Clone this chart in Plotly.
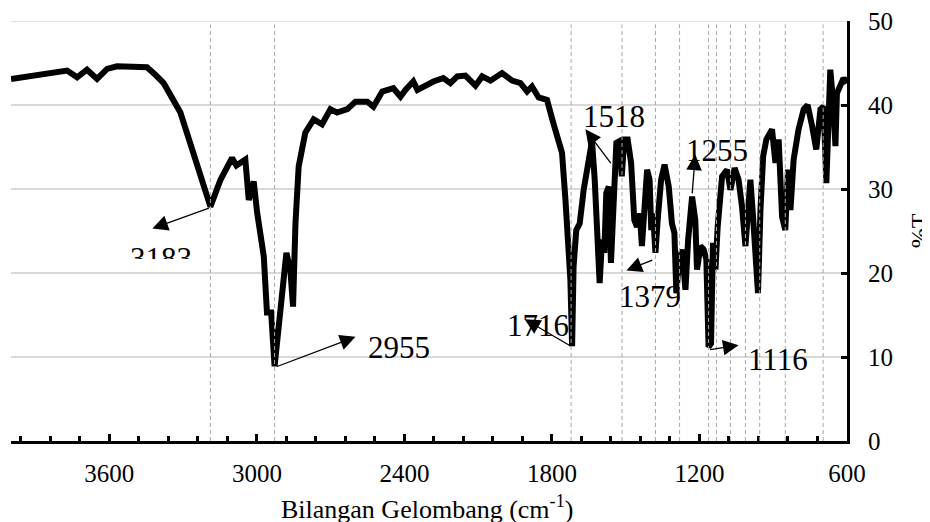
import plotly.graph_objects as go

# ---------------- data ----------------
wavenumber = [
    4000, 3908, 3840, 3772, 3731, 3691, 3650, 3609, 3569, 3501, 3447, 3413, 3379,
    3311, 3257, 3189, 3148, 3101, 3083, 3047, 3033, 3013, 2999, 2972, 2959, 2942, 2928,
    2898, 2880, 2864, 2853, 2843, 2830, 2803, 2769, 2735, 2701, 2674, 2632, 2599, 2551,
    2526, 2490, 2445, 2416, 2396, 2364, 2347, 2323, 2282, 2242, 2213, 2185, 2152, 2111,
    2084, 2050, 2003, 1962, 1928, 1901, 1881, 1854, 1820, 1793, 1773, 1759, 1745, 1732,
    1725, 1718, 1712, 1701, 1687, 1671, 1651, 1637, 1626, 1617, 1606, 1596, 1587, 1579,
    1569, 1560, 1551, 1538, 1525, 1516, 1506, 1492, 1478, 1465, 1454, 1443, 1434, 1424,
    1413, 1403, 1396, 1389, 1379, 1370, 1356, 1342, 1325, 1312, 1302, 1294, 1285, 1271,
    1257, 1246, 1230, 1217, 1210, 1196, 1183, 1172, 1163, 1153, 1145, 1135, 1126, 1108,
    1088, 1074, 1057, 1041, 1027, 1013, 1004, 993, 982, 973, 962, 952, 941, 928,
    905, 891, 878, 864, 851, 840, 830, 817, 797, 776, 760, 742, 725, 708,
    695, 684, 675, 668, 657, 647, 641, 627, 614, 600,
]
transmittance = [
    43.1, 43.5, 43.7, 44.1, 43.3, 44.2, 43.1, 44.3, 44.6, 44.5, 44.5, 43.6, 42.6,
    39.1, 34.3, 27.9, 31.1, 33.7, 32.8, 33.5, 28.7, 30.9, 27.2, 22.0, 15.3, 15.3, 8.9,
    18.0, 22.4, 20.4, 16.0, 26.0, 32.7, 36.7, 38.3, 37.7, 39.5, 39.1, 39.5, 40.4, 40.4,
    39.8, 41.6, 42.0, 41.0, 41.8, 42.8, 41.8, 42.2, 42.8, 43.2, 42.6, 43.4, 43.5, 42.3,
    43.4, 42.9, 43.8, 42.9, 42.6, 41.6, 42.2, 40.9, 40.6, 37.7, 35.5, 34.3, 28.7, 22.8,
    19.2, 11.3, 20.8, 25.1, 25.9, 29.9, 33.9, 35.7, 31.1, 23.2, 18.8, 24.0, 22.4, 29.5,
    30.3, 21.2, 27.9, 35.5, 35.7, 31.5, 35.9, 35.9, 33.1, 26.3, 25.5, 27.1, 23.2, 27.9,
    32.3, 31.1, 25.1, 27.1, 22.4, 26.3, 31.1, 32.9, 30.3, 25.9, 24.8, 17.6, 20.8, 22.8,
    18.0, 24.0, 29.1, 26.3, 20.4, 23.2, 22.8, 21.6, 11.2, 11.6, 23.6, 20.4, 25.5, 31.5,
    32.3, 29.9, 32.5, 31.1, 27.9, 23.2, 28.3, 31.1, 26.7, 20.8, 17.6, 27.5, 33.9, 35.9,
    37.1, 33.1, 35.9, 26.7, 25.1, 32.3, 27.5, 33.5, 37.1, 39.5, 40.0, 37.5, 34.7, 39.5,
    39.8, 30.7, 37.9, 44.2, 40.6, 35.1, 41.4, 42.2, 43.2, 42.6,
]
peak_labels = ["3183", "2955", "1716", "1518", "1379", "1255", "1116"]
dropline_cm = [3189, 2928, 1722, 1515, 1379, 1281, 1163, 1131, 1074, 1013, 955, 851, 697]
y_ticks = [0, 10, 20, 30, 40, 50]
x_title = "Bilangan Gelombang (cm<sup>-1</sup>)"
y_title = "%T"

# ---------------- annotation geometry (layout only) ----------------
# per label: arrow tail (on spectrum), arrow head, text centre  (data coords)
label_geom = {
    "3183": dict(tail=(3189, 27.8), head=(3425, 25.3), text=(3392, 24.0)),
    "2955": dict(tail=(2924, 8.8), head=(2599, 12.4), text=(2423, 11.1)),
    "1716": dict(tail=(1718, 11.2), head=(1911, 14.5), text=(1857, 13.8)),
    "1518": dict(tail=(1556, 32.9), head=(1664, 37.1), text=(1549, 38.6)),
    "1379": dict(tail=(1386, 21.6), head=(1497, 20.3), text=(1400, 17.2)),
    "1255": dict(tail=(1230, 29.3), head=(1217, 34.1), text=(1128, 34.6)),
    "1116": dict(tail=(1163, 10.85), head=(1041, 11.4), text=(881, 9.65)),
}

SERIF = "Liberation Serif, Times New Roman, serif"

fig = go.Figure()
fig.add_trace(go.Scatter(
    x=wavenumber, y=transmittance, mode="lines",
    line=dict(color="black", width=6),
    hoverinfo="skip", showlegend=False,
))

shapes = [dict(
    type="line", xref="paper", yref="y", x0=0, x1=1, y0=50, y1=50,
    line=dict(color="#d9d9d9", width=1.5), layer="below",
)]
for wn in dropline_cm:
    shapes.append(dict(
        type="line", xref="x", yref="y", x0=wn, x1=wn, y0=0, y1=49.6,
        line=dict(color="#a8a8a8", width=1, dash="4px,3px"), layer="above",
    ))

annotations = []
for lab in peak_labels:
    g = label_geom[lab]
    annotations.append(dict(
        x=g["head"][0], y=g["head"][1], ax=g["tail"][0], ay=g["tail"][1],
        xref="x", yref="y", axref="x", ayref="y", text="",
        showarrow=True, arrowhead=2, arrowsize=2.4, arrowwidth=1.3,
        arrowcolor="black", standoff=0, startstandoff=0,
    ))
    if lab == "3183":
        annotations.append(dict(
            x=g["text"][0], y=g["text"][1], xref="x", yref="y", text=lab,
            showarrow=False, xanchor="center", yanchor="top", valign="top", height=18,
            font=dict(family=SERIF, size=31, color="black"),
        ))
    else:
        annotations.append(dict(
            x=g["text"][0], y=g["text"][1], xref="x", yref="y", text=lab,
            showarrow=False, xanchor="center", yanchor="middle",
            font=dict(family=SERIF, size=31, color="black"),
        ))

annotations.append(dict(
    x=1.0861, y=0.502, xref="paper", yref="paper", text=y_title, textangle=-90,
    showarrow=False, xanchor="center", yanchor="middle",
    font=dict(family=SERIF, size=24, color="black"),
))
annotations.append(dict(
    x=0.4976, y=-0.159, xref="paper", yref="paper", text=x_title,
    showarrow=False, xanchor="center", yanchor="middle",
    font=dict(family=SERIF, size=26, color="black"),
))

# the page body has an 8px default margin, so the figure is 8px smaller
fig.update_layout(
    width=922, height=514,
    margin=dict(l=3, r=83, t=13, b=81),
    paper_bgcolor="white", plot_bgcolor="white",
    font=dict(family=SERIF, size=25, color="black"),
    shapes=shapes, annotations=annotations,
    xaxis=dict(
        range=[4000, 600], tickmode="linear", tick0=0, dtick=600,
        ticks="inside", ticklen=7, tickwidth=3, tickcolor="black",
        minor=dict(tickmode="linear", tick0=0, dtick=120, ticks="inside",
                   ticklen=5, tickwidth=3, tickcolor="black", showgrid=False),
        showline=True, linewidth=3, linecolor="black",
        showgrid=False, zeroline=False, automargin=False,
        ticklabeloverflow="allow",
        tickfont=dict(family=SERIF, size=25), ticklabelstandoff=8,
    ),
    yaxis=dict(
        range=[0, 50], side="right", tickmode="array", tickvals=y_ticks,
        ticks="inside", ticklen=6, tickwidth=3, tickcolor="black",
        showline=True, linewidth=3, linecolor="black",
        showgrid=True, gridcolor="#d9d9d9", gridwidth=1.5, zeroline=False,
        automargin=False, ticklabeloverflow="allow",
        tickfont=dict(family=SERIF, size=25), ticklabelstandoff=13,
    ),
)

fig.write_html("out.html")
